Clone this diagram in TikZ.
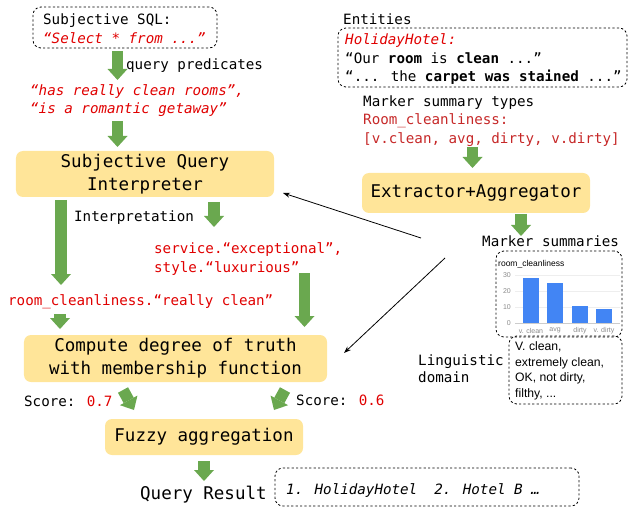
\documentclass[tikz,border=0pt]{standalone}
\usepackage{fontspec}
\setmainfont{DejaVu Sans Mono}
\newfontfamily\arialf{Liberation Sans}
\usetikzlibrary{arrows.meta}
\definecolor{yboxc}{HTML}{FFE599}
\definecolor{garr}{HTML}{6AA84F}
\definecolor{rtxt}{HTML}{E00000}
\definecolor{drtxt}{HTML}{C62828}
\definecolor{barc}{HTML}{4285F4}
\definecolor{gridc}{HTML}{EEEEEE}
\definecolor{axc}{HTML}{CCCCCC}
\definecolor{labc}{HTML}{8A8A8A}
\begin{document}
\begin{tikzpicture}[x=1bp,y=-1bp,
  sm/.style={inner sep=0pt, anchor=base west, font=\fontsize{14.2bp}{18.5bp}\selectfont},
  bgf/.style={font=\fontsize{17.5bp}{23bp}\selectfont},
  yb/.style={bgf, fill=yboxc, rounded corners=7bp, inner sep=0pt, align=center},
  db/.style={draw, dash pattern=on 2.2bp off 2.2bp, line width=0.8bp, rounded corners=8bp, inner sep=0pt},
  garrow/.style={draw=garr, line width=11.5bp, -{Triangle[width=20bp,length=11bp,line width=0pt]}},
  thinarr/.style={draw, line width=0.8bp, -{Stealth[length=7bp,width=5bp]}},
  ax/.style={inner sep=0pt, font=\arialf\fontsize{7bp}{8bp}\selectfont, text=labc},
  ling/.style={inner sep=0pt, anchor=base west, font=\arialf\fontsize{12.2bp}{15bp}\selectfont}
]
\useasboundingbox (0,0) rectangle (629,508);

% ---------- left column ----------
\node[db, minimum width=184bp, minimum height=41bp] (sql) at (125,27.5) {};
\node[sm] (sqlt1) at (43,24.5) {Subjective SQL:};
\node[sm, text=rtxt] (sqlt2) at (43,43.5) {\itshape “Select * from ...”};

\coordinate (a1s) at (117.5,51);
\coordinate (a1e) at (117.5,80);
\draw[garrow] (a1s) -- (a1e);
\node[sm] (qp) at (126,70) {query predicates};

\node[sm, text=rtxt] (pred1) at (30,96) {\itshape “has really clean rooms”,};
\node[sm, text=rtxt] (pred2) at (30,113.5) {\itshape “is a romantic getaway”};

\coordinate (a2s) at (117.5,121);
\coordinate (a2e) at (117.5,147);
\draw[garrow] (a2s) -- (a2e);

\node[yb, minimum width=258bp, minimum height=46bp] (sqi) at (145,174) {Subjective Query\\Interpreter};

\coordinate (a3s) at (61,200);
\coordinate (a3e) at (61,285);
\draw[garrow] (a3s) -- (a3e);
\node[sm] (interp) at (74,222) {Interpretation};
\coordinate (a4s) at (214,202);
\coordinate (a4e) at (214,227);
\draw[garrow] (a4s) -- (a4e);

\node[sm, text=rtxt] (serv) at (154,253) {service.“exceptional”,};
\node[sm, text=rtxt] (styl) at (154,272) {style.“luxurious”};
\coordinate (a5s) at (304.5,273);
\coordinate (a5e) at (304.5,327);
\draw[garrow] (a5s) -- (a5e);

\node[sm, text=rtxt] (roomc) at (8,305) {room\_cleanliness.“really clean”};
\coordinate (a6s) at (60,314);
\coordinate (a6e) at (60,329);
\draw[garrow] (a6s) -- (a6e);

\node[yb, minimum width=303bp, minimum height=47bp] (comp) at (175.5,358.5) {Compute degree of truth\\with membership function};

\node[sm] (sc1) at (24,406) {Score: \textcolor{rtxt}{0.7}};
\node[sm] (sc2) at (296,405.5) {Score: \textcolor{rtxt}{0.6}};
\coordinate (a7s) at (123,390);
\coordinate (a7e) at (134,410);
\draw[garrow] (a7s) -- (a7e);
\coordinate (a8s) at (285,390);
\coordinate (a8e) at (274,410);
\draw[garrow] (a8s) -- (a8e);

\node[yb, minimum width=198bp, minimum height=36bp] (fuzzy) at (204,437) {Fuzzy aggregation};
\coordinate (a9s) at (204,461);
\coordinate (a9e) at (204,481);
\draw[garrow] (a9s) -- (a9e);

\node[inner sep=0pt, anchor=base west, bgf] (qres) at (140,499.5) {Query Result};
\node[db, minimum width=304bp, minimum height=38bp] (res) at (427,487) {};
\node[sm] (rest) at (286,494.5) {\itshape 1. HolidayHotel~~2. Hotel B …};

% ---------- right column ----------
\node[sm] (ent) at (343,24.5) {Entities};
\node[db, minimum width=289bp, minimum height=59bp] (entbox) at (482.5,57.5) {};
\node[sm, text=rtxt] (e1) at (345,45) {\itshape HolidayHotel:};
\node[sm] (e2) at (345,63.5) {“Our \textbf{room} is \textbf{clean} ...”};
\node[sm] (e3) at (345,82) {“... the \textbf{carpet was stained} ...”};

\node[sm] (mst) at (363,106.5) {Marker summary types};
\node[sm, text=drtxt] (rc1) at (363,125) {Room\_cleanliness:};
\node[sm, text=drtxt] (rc2) at (363,144) {[v.clean, avg, dirty, v.dirty]};

\coordinate (a10s) at (472.5,147);
\coordinate (a10e) at (472.5,168);
\draw[garrow] (a10s) -- (a10e);

\node[yb, minimum width=228bp, minimum height=40bp] (extr) at (476,193) {Extractor+Aggregator};

\coordinate (a11s) at (521,214);
\coordinate (a11e) at (521,236);
\draw[garrow] (a11s) -- (a11e);

\node[sm] (msum) at (482,247) {Marker summaries};

% chart
\node[db, minimum width=126bp, minimum height=86bp] (chart) at (559,294) {};
\node[inner sep=0pt, anchor=base west, font=\arialf\fontsize{8.5bp}{9bp}\selectfont] (ctitle) at (498,266) {room\_cleanliness};
\foreach \yy in {275,291,307} \draw[gridc, line width=0.7bp] (515,\yy) -- (620,\yy);
\draw[axc, line width=0.8bp] (515,323) -- (620,323);
\node[ax, anchor=east] (y30) at (511,275) {30};
\node[ax, anchor=east] (y20) at (511,291) {20};
\node[ax, anchor=east] (y10) at (511,307) {10};
\node[ax, anchor=east] (y0) at (511,323) {0};
\fill[barc] (523,278) rectangle (539,323);
\fill[barc] (547,283) rectangle (563,323);
\fill[barc] (572,306) rectangle (588,323);
\fill[barc] (596,309) rectangle (612,323);
\node[ax] (xl1) at (531,330.5) {v. clean};
\node[ax] (xl2) at (555,330.5) {avg};
\node[ax] (xl3) at (580,330.5) {dirty};
\node[ax] (xl4) at (604,330.5) {v. dirty};

% linguistic domain
\node[sm] (lg1) at (418,365) {Linguistic};
\node[sm] (lg2) at (418,382.5) {domain};
\node[db, minimum width=113bp, minimum height=68bp] (lbox) at (565.5,370) {};
\node[ling] (l1) at (515,350.5) {V. clean,};
\node[ling] (l2) at (515,366) {extremely clean,};
\node[ling] (l3) at (515,381.5) {OK, not dirty,};
\node[ling] (l4) at (515,397) {filthy, ...};

% thin arrows from marker summaries
\coordinate (t1s) at (421,238);
\coordinate (t1e) at (283,193);
\draw[thinarr] (t1s) -- (t1e);
\coordinate (t2s) at (445,258);
\coordinate (t2e) at (344,353);
\draw[thinarr] (t2s) -- (t2e);
\end{tikzpicture}
\end{document}
